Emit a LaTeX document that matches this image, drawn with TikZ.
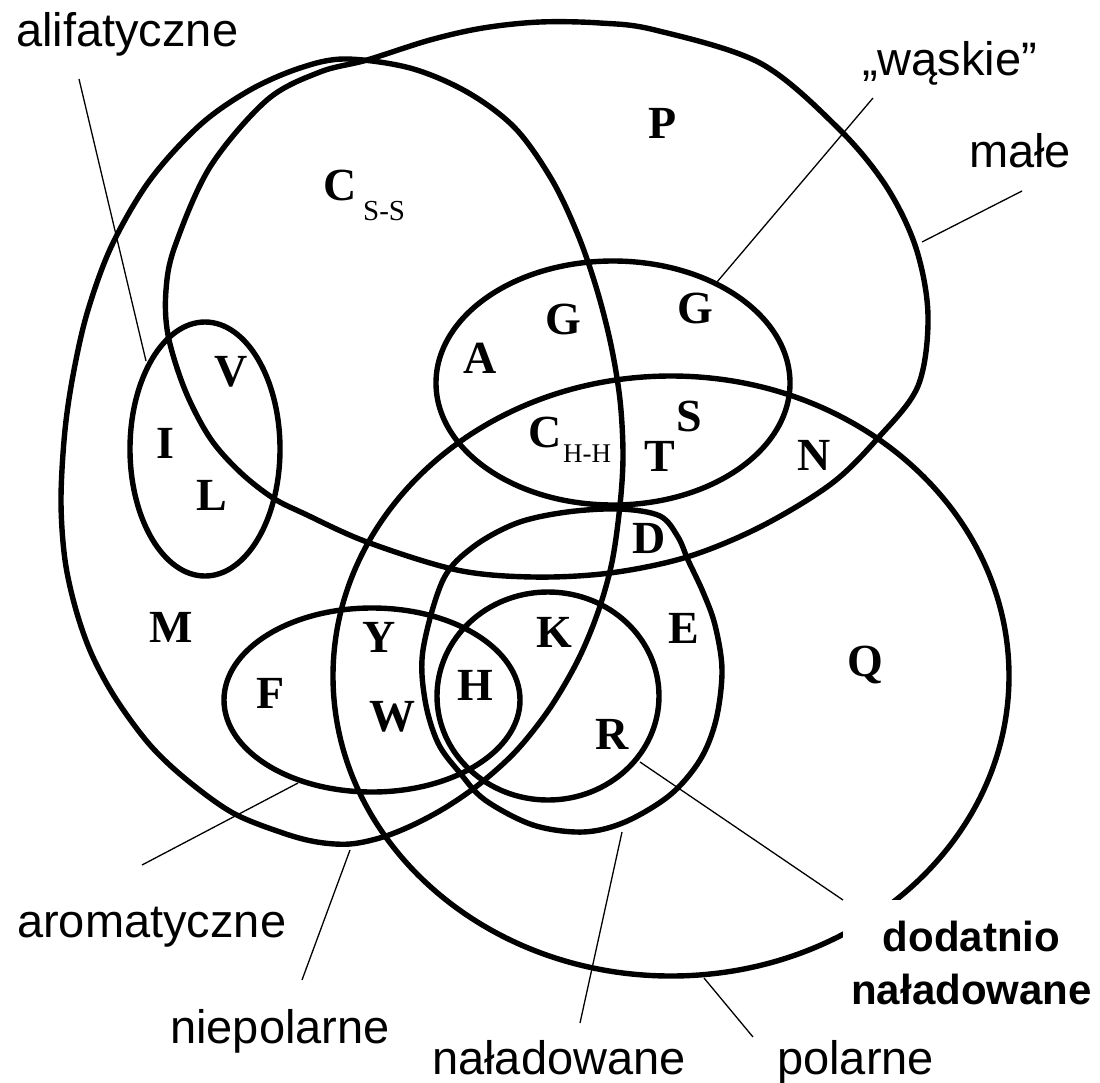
\documentclass[tikz,border=0pt]{standalone}
\usepackage{fontspec}
\setmainfont{Liberation Sans}
\newfontfamily\aminofont{Liberation Serif}
\begin{document}
\begin{tikzpicture}[x=1pt,y=-1pt,
  setline/.style={line width=5.4pt, line join=round},
  pointer/.style={line width=1.3pt},
  aa/.style={font=\aminofont\bfseries\fontsize{46}{46}\selectfont, inner sep=0pt},
  subscr/.style={font=\aminofont\fontsize{29}{29}\selectfont, inner sep=0pt, anchor=base west},
  lbl/.style={font=\fontsize{47}{56}\selectfont, inner sep=0pt, anchor=base west},
  lblbold/.style={font=\bfseries\fontsize{42}{53}\selectfont, align=center, fill=white,
    inner sep=0pt, minimum width=257pt, minimum height=125pt},
]
\useasboundingbox (0,0) rectangle (1100,1082);
\fill[white] (0,0) rectangle (1100,1082);

% niepolarne (hydrophobic)
\draw[setline] plot[smooth cycle, tension=0.55] coordinates {
  (345,59) (410,68) (467,92) (515,128) (552,180) (578,235) (597,290) (611,345)
  (620,400) (623,455) (620,505) (612,562) (598,612) (578,660) (550,708) (517,750)
  (482,782) (448,806) (415,824) (383,837) (350,844) (317,842) (283,833) (233,813)
  (187,780) (150,745) (116,699) (92,655) (76,610) (65,560) (61,500) (65,430)
  (74,370) (88,310) (112,245) (150,180) (200,125) (250,90) (300,68)};

% male (small)
\draw[setline] plot[smooth cycle, tension=0.55] coordinates {
  (367,60) (430,40) (483,28) (540,22) (600,23) (655,30) (760,63) (838,128)
  (886,186) (916,248) (928,316) (918,386) (878,438) (831,484) (760,527) (687,557)
  (610,573) (533,577) (457,570) (367,542) (305,514) (273,498) (240,472) (210,438)
  (185,390) (168,335) (166,290) (175,246) (210,167) (267,100) (320,72)};

% waskie (tiny)
\draw[setline] (613,383) ellipse [x radius=177pt, y radius=122pt];

% alifatyczne (aliphatic)
\draw[setline] (205,449) ellipse [x radius=75pt, y radius=127pt];

% aromatyczne (aromatic)
\draw[setline] (372,700) ellipse [x radius=148pt, y radius=92pt];

% polarne (polar)
\draw[setline] (671,676) ellipse [x radius=338pt, y radius=300pt];

% naladowane (charged)
\draw[setline] plot[smooth cycle, tension=0.55] coordinates {
  (443,580) (473,547) (517,523) (567,512) (620,509) (660,516) (678,537) (688,560)
  (703,592) (715,625) (722,670) (716,720) (700,760) (670,795) (625,822) (583,832)
  (533,825) (485,800) (460,773) (438,743) (425,700) (423,650)};

% dodatnio naladowane (positively charged)
\draw[setline] (548,696) ellipse [x radius=111pt, y radius=104pt];

% amino acids
\node[aa] (M) at (171,627) {M};
\node[aa] (I) at (165,443) {I};
\node[aa] (V) at (231,372) {V};
\node[aa] (L) at (212,495) {L};
\node[aa] (Css) at (340,185) {C};
\node[subscr] (Csssub) at (363,220) {S-S};
\node[aa] (P) at (663,123) {P};
\node[aa] (G1) at (563,319) {G};
\node[aa] (G2) at (695,308) {G};
\node[aa] (A) at (480,358) {A};
\node[aa] (Chh) at (545,432) {C};
\node[subscr, font=\aminofont\fontsize{27}{27}\selectfont] (Chhsub) at (563,462) {H-H};
\node[aa] (S) at (689,416) {S};
\node[aa] (T) at (660,456) {T};
\node[aa] (N) at (814,455) {N};
\node[aa] (D) at (649,538) {D};
\node[aa] (F) at (271,693) {F};
\node[aa] (Y) at (379,637) {Y};
\node[aa] (W) at (392,717) {W};
\node[aa] (H) at (475,685) {H};
\node[aa] (K) at (554,632) {K};
\node[aa] (E) at (684,628) {E};
\node[aa] (R) at (612,734) {R};
\node[aa] (Q) at (865,665) {Q};

% set labels
\node[lbl] (ali) at (16,46) {alifatyczne};
\node[lbl] (wask) at (862,75) {„wąskie”};
\node[lbl] (male) at (969,167) {małe};
\node[lbl] (arom) at (17,937) {aromatyczne};
\node[lbl] (niep) at (170,1043) {niepolarne};
\node[lbl] (nalad) at (432,1074) {naładowane};
\node[lbl] (polar) at (777,1074) {polarne};
\node[lblbold] (dodat) at (971.5,962.5) {dodatnio\\naładowane};

% pointer lines
\coordinate (aliA) at (146,361);  \coordinate (aliB) at (79,79);
\coordinate (waskA) at (717,282); \coordinate (waskB) at (873,98);
\coordinate (maleA) at (922,242); \coordinate (maleB) at (1022,191);
\coordinate (aromA) at (298,783); \coordinate (aromB) at (142,865);
\coordinate (niepA) at (350,850); \coordinate (niepB) at (302,980);
\coordinate (naladA) at (622,832); \coordinate (naladB) at (580,1023);
\coordinate (polarA) at (704,978); \coordinate (polarB) at (753,1037);
\coordinate (dodatA) at (640,762); \coordinate (dodatB) at (843,900);
\draw[pointer] (aliA) -- (aliB);
\draw[pointer] (waskA) -- (waskB);
\draw[pointer] (maleA) -- (maleB);
\draw[pointer] (aromA) -- (aromB);
\draw[pointer] (niepA) -- (niepB);
\draw[pointer] (naladA) -- (naladB);
\draw[pointer] (polarA) -- (polarB);
\draw[pointer] (dodatA) -- (dodatB);
\end{tikzpicture}
\end{document}
